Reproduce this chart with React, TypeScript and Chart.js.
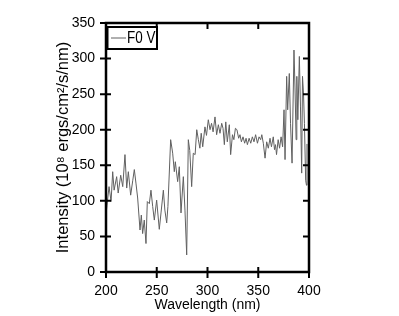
import React, { useEffect, useRef } from "react";
import { Chart, registerables } from "chart.js";

Chart.register(...registerables);

const seriesLabel = "F0 V";
const xTitle = "Wavelength (nm)";
const yTitle = "Intensity (10⁸ ergs/cm²/s/nm)";

const wavelengths = [
  200, 201, 203, 205, 206.6, 208, 210.5, 212, 214.5, 216.5, 218.7, 220.4, 222, 224.3, 226.4, 227.9, 229.5, 231.2,
  233.5, 234.8, 236.1, 237.7, 239.4, 240.7, 242.7, 244.3, 246, 247.6, 249.9, 252.5, 254.2, 256.5, 258, 259.8, 261,
  263.7, 265.7, 267.3, 268.3, 270.6, 272.2, 273.9, 276.2, 277.8, 279.5, 281.1, 282.5, 284.4, 286, 287.8, 289.4, 291,
  292.5, 293.8, 295.3, 297.5, 299, 300.8, 302.5, 304, 305.5, 307.4, 309, 310.7, 312.3, 314, 315.3, 316.6, 318, 319.5,
  321.5, 322.8, 324.6, 326, 327.5, 329, 330.7, 332, 333.4, 335, 336.6, 338, 339.3, 341, 342.6, 344.2, 345.8, 347.4,
  349.2, 350.8, 352.4, 353.5, 355, 356.7, 358.3, 359.9, 361.6, 363, 364.8, 366, 367, 368, 369.6, 371, 372.5, 374,
  375.4, 376.4, 378, 379, 380.6, 381.8, 383.3, 385.2, 386.2, 387.3, 388, 389, 390.5, 391.6, 392.8, 393.6, 394.6,
  395.5, 396.7, 397.5, 398,
];

const intensities = [
  80, 94, 120, 99, 141, 115, 134, 111, 136, 120, 165, 118, 141, 108, 129, 144, 125, 104,
  59, 80, 54, 73, 40, 99, 96, 115, 92, 73, 101, 60, 83, 115, 87, 69, 92,
  186, 167, 141, 155, 127, 148, 83, 134, 87, 24, 186, 171, 120, 167, 165, 200, 186,
  174, 195, 176, 204, 192, 214, 200, 209, 197, 218, 193, 207, 195, 209, 202, 179, 211, 183,
  207, 165, 193, 186, 202, 200, 188, 193, 183, 190, 181, 188, 179, 188, 181, 190, 183, 193,
  181, 190, 186, 193, 181, 160, 183, 174, 188, 176, 190, 172, 179, 165, 186, 174, 190, 176,
  228, 158, 275, 228, 279, 209, 153, 312, 260, 186, 275, 214, 303, 232, 139, 275, 250,
  209, 129, 122, 180,
];

const xMin = 200;
const xMax = 400;
const xStep = 50;
const yMin = 0;
const yMax = 350;
const yStep = 50;

const FONT = "'Liberation Sans', Arial, sans-serif";

const framePlugin = {
  id: "frameTicks",
  afterDraw(chart: any) {
    const { ctx, chartArea } = chart;
    const { left, right, top, bottom } = chartArea;
    const xs = chart.scales.x;
    const ys = chart.scales.y;
    ctx.save();
    ctx.strokeStyle = "#000";
    ctx.lineWidth = 2.5;
    ctx.strokeRect(left, top, right - left, bottom - top);
    ctx.lineWidth = 2;
    ctx.beginPath();
    xs.ticks.forEach((t: any) => {
      const px = xs.getPixelForValue(t.value);
      ctx.moveTo(px, bottom + 6);
      ctx.lineTo(px, bottom - 5);
      ctx.moveTo(px, top);
      ctx.lineTo(px, top + 6);
    });
    ys.ticks.forEach((t: any) => {
      const py = ys.getPixelForValue(t.value);
      ctx.moveTo(left - 6, py);
      ctx.lineTo(left + 5, py);
      ctx.moveTo(right, py);
      ctx.lineTo(right - 6, py);
    });
    ctx.stroke();

    // legend box
    const ds = chart.data.datasets[0];
    const bx = left;
    const by = top + 4;
    const bw = 51;
    const bh = 22;
    ctx.fillStyle = "#fff";
    ctx.fillRect(bx, by, bw, bh);
    ctx.strokeStyle = "#000";
    ctx.lineWidth = 2;
    ctx.strokeRect(bx + 1, by, bw - 1, bh);
    ctx.lineWidth = 3;
    ctx.beginPath();
    ctx.moveTo(bx + 1, by);
    ctx.lineTo(bx + 1, by + bh);
    ctx.stroke();
    ctx.strokeStyle = ds.borderColor;
    ctx.lineWidth = 1;
    ctx.beginPath();
    ctx.moveTo(bx + 5, by + bh / 2);
    ctx.lineTo(bx + 20, by + bh / 2);
    ctx.stroke();
    ctx.fillStyle = "#000";
    ctx.font = `16px ${FONT}`;
    ctx.textBaseline = "middle";
    ctx.textAlign = "left";
    ctx.save();
    ctx.translate(bx + 21, by + bh / 2 + 1);
    ctx.scale(0.84, 1);
    ctx.fillText(ds.label, 0, 0);
    ctx.restore();
    ctx.restore();
  },
};

export default function App() {
  const ref = useRef<HTMLCanvasElement>(null);
  useEffect(() => {
    document.body.style.margin = "0";
    const data = wavelengths.map((w, i) => ({ x: w, y: intensities[i] }));
    const chart = new Chart(ref.current as HTMLCanvasElement, {
      type: "line",
      data: {
        datasets: [
          {
            label: seriesLabel,
            data,
            borderColor: "#606060",
            borderWidth: 1,
            pointRadius: 0,
            tension: 0,
            fill: false,
          },
        ],
      },
      plugins: [framePlugin],
      options: {
        animation: false,
        responsive: false,
        maintainAspectRatio: false,
        layout: { padding: { top: 23, right: 90, left: 0, bottom: 0 } },
        plugins: { legend: { display: false }, tooltip: { enabled: false } },
        scales: {
          x: {
            type: "linear",
            min: xMin,
            max: xMax,
            ticks: { stepSize: xStep, color: "#000", font: { family: FONT, size: 14 }, padding: 11, maxRotation: 0 },
            grid: { display: false, drawTicks: false },
            border: { display: false },
            title: { display: true, text: xTitle, color: "#000", font: { family: FONT, size: 14 }, padding: { top: 0, bottom: 2 } },
            afterFit: (s: any) => {
              s.height = 44;
            },
          },
          y: {
            type: "linear",
            min: yMin,
            max: yMax,
            ticks: { stepSize: yStep, color: "#000", font: { family: FONT, size: 14 }, padding: 11 },
            grid: { display: false, drawTicks: false },
            border: { display: false },
            title: { display: true, text: yTitle, color: "#000", font: { family: FONT, size: 16.5 }, padding: { top: 54, bottom: 0 } },
            afterFit: (s: any) => {
              s.width = 106;
            },
          },
        },
      },
    });
    return () => chart.destroy();
  }, []);
  return <canvas ref={ref} width={399} height={316} style={{ display: "block" }} />;
}
